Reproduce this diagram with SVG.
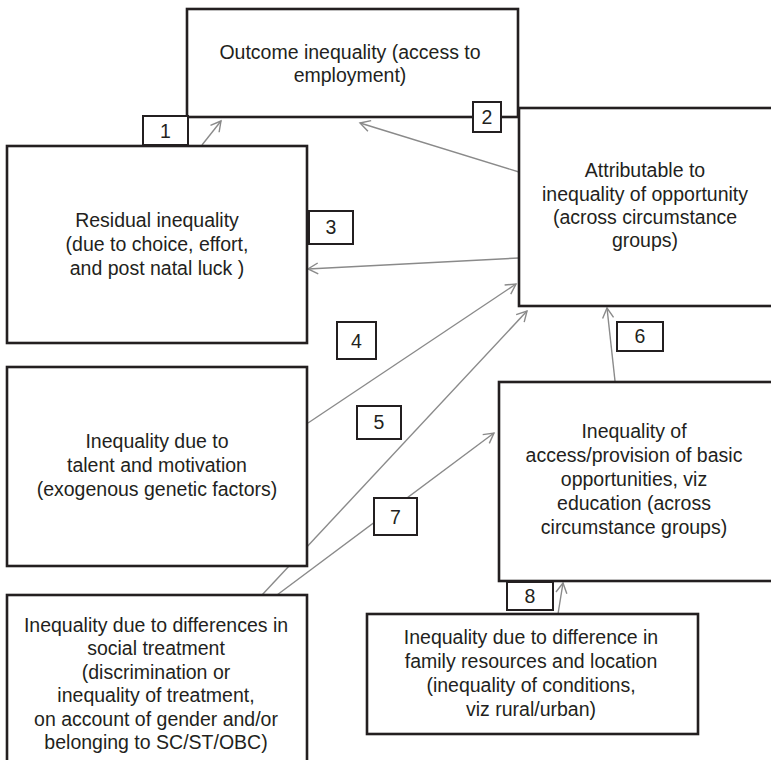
<svg xmlns="http://www.w3.org/2000/svg" width="771" height="760" viewBox="0 0 771 760">
<style>
.box{fill:#fff;stroke:#231f20;stroke-width:2.6}
.num{fill:#fff;stroke:#231f20;stroke-width:2}
.t{font-family:"Liberation Sans",Arial,Helvetica,sans-serif;font-size:19.5px;fill:#231f20;text-anchor:middle}
.c{stroke:#8a8a8a;stroke-width:1.4;fill:none;marker-end:url(#ah)}
</style>
<defs>
<marker id="ah" viewBox="-12 -7 14 14" refX="0" refY="0" markerWidth="14" markerHeight="14" markerUnits="userSpaceOnUse" orient="auto">
<path d="M-10,-5.5 L0,0 L-10,5.5" fill="none" stroke="#8a8a8a" stroke-width="1.4"/>
</marker>
</defs>
<g id="connectors">
<line class="c" x1="202" y1="145" x2="221" y2="121"/>
<line class="c" x1="519" y1="172" x2="360" y2="123"/>
<line class="c" x1="519" y1="258" x2="308" y2="269"/>
<line class="c" x1="308" y1="423" x2="516" y2="284"/>
<line class="c" x1="262" y1="595" x2="527" y2="311"/>
<line class="c" x1="615" y1="381" x2="607" y2="308"/>
<line class="c" x1="277" y1="595" x2="494" y2="433"/>
<line class="c" x1="558" y1="614" x2="563" y2="583"/>
</g>
<g id="outcome">
<rect class="box" x="187" y="9" width="331" height="108"/>
<text class="t" x="350" y="59">Outcome inequality (access to</text>
<text class="t" x="350" y="82">employment)</text>
</g>
<g id="attributable">
<rect class="box" x="519" y="108" width="270" height="198"/>
<text class="t" x="645" y="177">Attributable to</text>
<text class="t" x="645" y="201">inequality of opportunity</text>
<text class="t" x="645" y="224">(across circumstance</text>
<text class="t" x="645" y="247">groups)</text>
</g>
<g id="residual">
<rect class="box" x="7" y="146" width="300" height="197"/>
<text class="t" x="157" y="227">Residual inequality</text>
<text class="t" x="157" y="251">(due to choice, effort,</text>
<text class="t" x="157" y="275">and post natal luck )</text>
</g>
<g id="talent">
<rect class="box" x="7" y="367" width="300" height="199"/>
<text class="t" x="157" y="448">Inequality due to</text>
<text class="t" x="157" y="472">talent and motivation</text>
<text class="t" x="157" y="496">(exogenous genetic factors)</text>
</g>
<g id="basic">
<rect class="box" x="499" y="382" width="290" height="199"/>
<text class="t" x="634" y="438">Inequality of</text>
<text class="t" x="634" y="462">access/provision of basic</text>
<text class="t" x="634" y="486">opportunities, viz</text>
<text class="t" x="634" y="510">education (across</text>
<text class="t" x="634" y="534">circumstance groups)</text>
</g>
<g id="social">
<rect class="box" x="7" y="595" width="300" height="180"/>
<text class="t" x="156" y="632">Inequality due to differences in</text>
<text class="t" x="156" y="655">social treatment</text>
<text class="t" x="156" y="679">(discrimination or</text>
<text class="t" x="156" y="702">inequality of treatment,</text>
<text class="t" x="156" y="726">on account of gender and/or</text>
<text class="t" x="156" y="749">belonging to SC/ST/OBC)</text>
</g>
<g id="family">
<rect class="box" x="367" y="614" width="331" height="120"/>
<text class="t" x="531" y="644">Inequality due to difference in</text>
<text class="t" x="531" y="668">family resources and location</text>
<text class="t" x="531" y="692">(inequality of conditions,</text>
<text class="t" x="531" y="716">viz rural/urban)</text>
</g>
<g id="label1"><rect class="num" x="143" y="116" width="45" height="29"/><text class="t" x="165.5" y="138">1</text></g>
<g id="label2"><rect class="num" x="473" y="102" width="28" height="30"/><text class="t" x="487" y="124">2</text></g>
<g id="label3"><rect class="num" x="309" y="211" width="44" height="33"/><text class="t" x="331" y="234">3</text></g>
<g id="label4"><rect class="num" x="337" y="322" width="39" height="37"/><text class="t" x="356.5" y="348">4</text></g>
<g id="label5"><rect class="num" x="357" y="406" width="44" height="33"/><text class="t" x="379" y="429">5</text></g>
<g id="label6"><rect class="num" x="617" y="322" width="46" height="29"/><text class="t" x="640" y="343">6</text></g>
<g id="label7"><rect class="num" x="374" y="498" width="43" height="37"/><text class="t" x="395.5" y="524">7</text></g>
<g id="label8"><rect class="num" x="507" y="582" width="46" height="28"/><text class="t" x="530" y="603">8</text></g>
</svg>
